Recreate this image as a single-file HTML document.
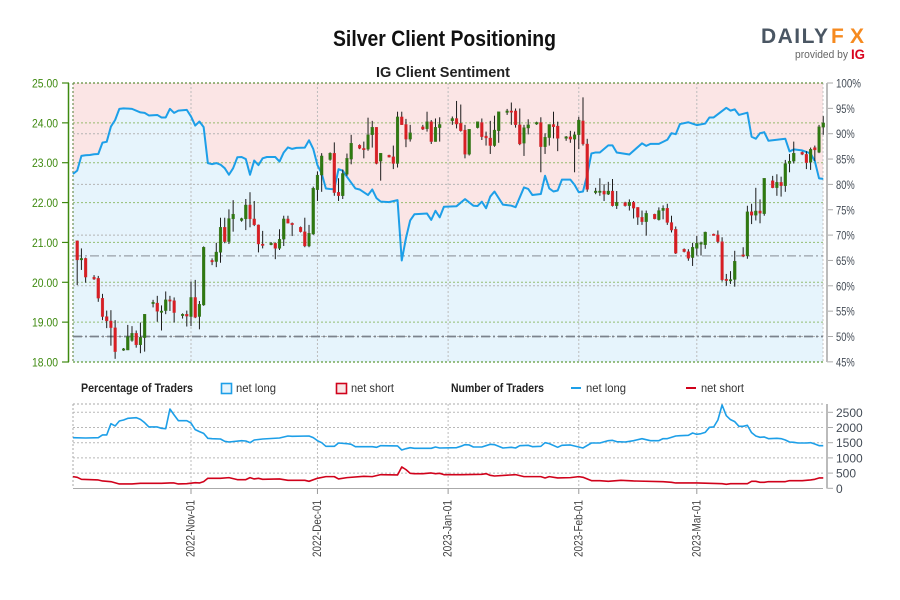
<!DOCTYPE html>
<html lang="en">
<head>
<meta charset="utf-8">
<title>Silver Client Positioning</title>
<style>
html,body{margin:0;padding:0;background:#fff;width:900px;height:600px;overflow:hidden}
svg{display:block;font-family:"Liberation Sans",sans-serif}
</style>
</head>
<body>
<svg id="chart" xmlns="http://www.w3.org/2000/svg" width="900" height="600" viewBox="0 0 900 600">
  <rect width="900" height="600" fill="#fff"/>
  <text x="333" y="46" font-size="22" font-weight="bold" fill="#111" textLength="223" lengthAdjust="spacingAndGlyphs">Silver Client Positioning</text>
  <text x="376" y="77" font-size="15" font-weight="bold" fill="#222" textLength="134" lengthAdjust="spacingAndGlyphs">IG Client Sentiment</text>

  <g>
    <text x="761" y="43" font-size="21" font-weight="bold" fill="#4a5663" textLength="67" lengthAdjust="spacing">DAILY</text>
    <text x="831" y="43" font-size="21" font-weight="bold" fill="#f68a1f" textLength="33" lengthAdjust="spacing">FX</text>
    <text x="795" y="58" font-size="11" fill="#666" textLength="53" lengthAdjust="spacingAndGlyphs">provided by</text>
    <text x="851" y="59" font-size="14" font-weight="bold" fill="#d9041f" textLength="14" lengthAdjust="spacingAndGlyphs">IG</text>
  </g>

  <g id="mainPanel"></g>
  <g id="lowerPanel"></g>

  <g font-size="12" fill="#333">
    <text x="81" y="392" font-weight="bold" fill="#222" textLength="112" lengthAdjust="spacingAndGlyphs">Percentage of Traders</text>
    <rect x="221.5" y="383.5" width="10" height="10" fill="#e6f4fc" stroke="#1d9fe8" stroke-width="1.6"/>
    <text x="236" y="392" textLength="40" lengthAdjust="spacingAndGlyphs">net long</text>
    <rect x="336.5" y="383.5" width="10" height="10" fill="#f8e6e6" stroke="#d0021b" stroke-width="1.6"/>
    <text x="351" y="392" textLength="43" lengthAdjust="spacingAndGlyphs">net short</text>
    <text x="451" y="392" font-weight="bold" fill="#222" textLength="93" lengthAdjust="spacingAndGlyphs">Number of Traders</text>
    <line x1="571" x2="581" y1="388" y2="388" stroke="#1d9fe8" stroke-width="2"/>
    <text x="586" y="392" textLength="40" lengthAdjust="spacingAndGlyphs">net long</text>
    <line x1="686" x2="696" y1="388" y2="388" stroke="#d0021b" stroke-width="2"/>
    <text x="701" y="392" textLength="43" lengthAdjust="spacingAndGlyphs">net short</text>
  </g>
</svg>
<script>
/* Day numbers count from 2022-Nov-01 = 0 */
var dateLabels = ['2022-Nov-01','2022-Dec-01','2023-Jan-01','2023-Feb-01','2023-Mar-01'];
var dateDays = [0,30,61,92,120];
var priceTicks = [18,19,20,21,22,23,24,25];
var percentTicks = [45,50,55,60,65,70,75,80,85,90,95,100];
var percentGrid = [50,60,70,80,90];
var countTicks = [0,500,1000,1500,2000,2500];
var supportPercent = 50;
var midPercent = 65.9;

var candleDays = [-27,-26,-25,
 -23,-22,-21,-20,-19,-18,
 -16,-15,-14,-13,-12,-11,
 -9,-8,-7,-6,-5,-4,
 -2,-1,0,1,2,3,
 5,6,7,8,9,10,
 12,13,14,15,16,17,
 19,20,21,22,23,24,
 26,27,28,29,30,31,
 33,34,35,36,37,38,
 40,41,42,43,44,45,
 47,48,49,50,51,52,
 55,56,57,58,59,
 62,63,64,65,66,
 68,69,70,71,72,73,
 75,76,77,78,79,80,
 82,83,84,85,86,87,
 89,90,91,92,93,94,
 96,97,98,99,100,101,
 103,104,105,106,107,108,
 110,111,112,113,114,115,
 117,118,119,120,121,122,
 124,125,126,127,128,129,
 131,132,133,134,135,136,
 138,139,140,141,142,143,
 145,146,147,148,149,150];
var opens = [21.04,20.56,20.6,
 20.13,20.1,19.6,19.14,19.03,18.86,
 18.3,18.3,18.54,18.72,18.43,18.61,
 19.47,19.48,19.27,19.29,19.56,19.54,
 19.19,19.2,19.14,19.62,19.14,19.43,
 20.55,20.52,20.75,21.38,21.02,21.59,
 21.55,21.59,21.94,21.59,21.44,20.96,
 20.96,20.98,20.85,21.08,21.59,21.48,
 21.38,21.27,20.91,21.21,22.32,22.69,
 23.08,23.24,22.26,22.17,22.71,23.09,
 23.44,23.36,23.34,23.7,23.89,23.04,
 23.19,23.15,22.98,24.15,23.96,23.59,
 23.9,23.85,24.03,23.53,23.88,
 24.05,24.11,23.99,23.82,23.21,
 23.88,24.01,23.67,23.62,23.43,23.8,
 24.26,24.3,24.3,23.95,23.49,23.87,
 23.97,24.01,23.4,23.63,23.96,23.92,
 23.61,23.65,23.59,23.7,24.05,23.47,
 22.25,22.26,22.29,22.21,22.29,21.92,
 22,21.92,22.01,21.88,21.63,21.52,
 21.71,21.57,21.8,21.86,21.5,21.33,
 20.83,20.77,20.62,20.85,20.96,20.94,
 21.21,21.19,21.02,20.08,20.04,20.07,
 20.69,20.66,21.77,21.68,21.79,21.72,
 22.55,22.37,22.51,22.42,22.98,23.04,
 23.26,23.21,23.01,23.38,23.26,23.89];
var highs = [21.05,20.85,20.62,
 20.18,20.16,19.71,19.29,19.3,19.05,
 18.35,18.93,18.9,18.79,18.99,19.2,
 19.56,19.66,19.42,19.77,19.66,19.62,
 19.22,19.29,20.02,20.06,19.53,20.9,
 20.6,20.99,21.62,21.62,21.83,22.06,
 21.62,22.09,22.26,22.04,21.45,21.29,
 21.01,21.0,21.33,21.67,21.67,21.5,
 21.4,21.62,21.44,22.4,22.78,23.24,
 23.26,23.51,22.61,22.83,23.23,23.7,
 23.46,23.53,24.13,24.05,23.89,23.24,
 23.2,23.43,24.28,24.28,24.1,23.95,
 23.95,24.28,24.07,24.11,24.14,
 24.16,24.55,24.46,23.95,23.84,
 24.03,24.11,23.78,24.05,24.18,24.28,
 24.35,24.51,24.36,24.36,23.95,24.09,
 24.03,24.14,23.74,23.96,24.28,24.03,
 23.67,23.8,23.78,24.15,24.64,23.6,
 22.37,22.61,22.46,22.52,22.59,22.29,
 22.02,22.08,22.04,21.88,21.8,21.8,
 21.72,21.88,21.93,21.97,21.67,21.4,
 20.85,20.83,20.99,21.16,21.02,21.27,
 21.22,21.3,21.13,20.21,20.28,20.79,
 20.88,21.92,21.97,22.37,22.08,22.61,
 22.67,22.71,22.65,23.07,23.22,23.53,
 23.28,23.29,23.38,23.43,23.95,24.17];
var lows = [19.93,20.31,19.99,
 20.06,19.51,19.05,18.85,18.41,18.08,
 18.28,18.3,18.51,18.36,18.22,18.26,
 19.37,19.01,18.79,19.2,19.28,18.99,
 19.09,18.89,18.9,19.1,18.82,19.41,
 20.43,20.38,20.49,20.98,20.96,21.27,
 21.52,21.31,21.38,21.41,20.75,20.85,
 20.93,20.58,20.81,20.91,21.48,21.16,
 21.25,20.88,20.88,21.19,22.04,22.27,
 23.05,22.17,22.04,22.09,22.67,22.96,
 23.34,23.11,23.3,23.38,22.96,22.55,
 23.13,22.84,22.88,23.95,23.39,23.53,
 23.82,23.78,23.47,23.53,23.53,
 23.95,23.86,23.78,23.11,23.18,
 23.86,23.57,23.43,23.22,23.4,23.5,
 24.2,23.95,23.88,23.44,23.17,23.71,
 23.95,22.76,23.22,23.43,23.61,23.29,
 23.55,23.5,22.76,23.34,23.43,22.27,
 22.21,22.17,22.04,22.19,21.9,21.84,
 21.9,21.8,21.6,21.44,21.44,21.17,
 21.58,21.55,21.58,21.44,21.25,20.71,
 20.75,20.54,20.41,20.67,20.67,20.84,
 21.17,20.98,20.02,19.91,19.96,19.89,
 20.63,20.59,21.46,21.55,21.48,21.67,
 22.36,22.17,22.15,22.27,22.76,22.98,
 23.19,22.84,22.82,23.04,23.24,23.7];
var closes = [20.56,20.6,20.13,
 20.08,19.6,19.14,19.03,18.86,18.26,
 18.33,18.64,18.72,18.43,18.62,19.2,
 19.5,19.27,19.28,19.56,19.53,19.24,
 19.2,19.15,19.62,19.12,19.45,20.88,
 20.51,20.76,21.38,21.02,21.6,21.71,
 21.6,21.94,21.59,21.44,20.96,20.95,
 20.98,20.85,21.08,21.59,21.48,21.45,
 21.27,20.91,21.23,22.36,22.69,23.17,
 23.24,22.25,22.17,22.73,23.11,23.49,
 23.36,23.35,23.7,23.89,22.98,23.24,
 23.14,22.98,24.15,23.95,23.59,23.75,
 23.84,24.03,23.53,23.89,23.96,
 24.11,23.97,23.8,23.21,23.84,
 24.03,23.65,23.62,23.43,23.82,24.28,
 24.3,24.28,23.95,23.47,23.88,23.95,
 24.01,23.4,23.64,23.96,23.9,23.61,
 23.65,23.59,23.7,24.07,23.47,22.33,
 22.29,22.29,22.21,22.29,21.92,22.01,
 21.92,22.01,21.86,21.63,21.52,21.73,
 21.59,21.8,21.86,21.5,21.31,20.73,
 20.77,20.6,20.88,20.98,20.99,21.26,
 21.18,21.02,20.06,20.04,20.07,20.53,
 20.66,21.77,21.68,21.79,21.73,22.61,
 22.37,22.51,22.42,22.98,23.04,23.24,
 23.21,23.0,23.34,23.32,23.9,24.0];

var sentimentDays = [-28,-27,-26,-25,-24,-23,-22,-21,-20,-19,-18,-17,-16,-14,-12,-11,-10,-8,-7,-6,-5,-4,-3,-1,0,1,2,3,4,5,6,7,8,9,10,11,12,13,14,15,16,17,18,20,21,22,23,24,25,27,28,29,30,31,32,33,34,35,36,37,39,40,42,43,44,45,47,49,50,51,52,53,56,57,58,59,60,63,65,67,68,69,70,71,72,74,76,77,79,80,81,83,84,85,86,87,88,90,91,92,93,94,95,96,97,99,100,101,104,107,108,109,111,113,114,115,116,118,120,122,123,124,127,128,129,130,132,133,134,135,136,137,141,142,143,145,147,148,149,150];
var sentimentLong = [82.07,82.72,85.62,85.75,85.8,85.94,86,88.24,88.4,91.4,92.7,94.9,95,94.9,94.2,94.1,93.6,93.7,93.2,93.2,94.9,94.1,94.55,94.7,93.4,91.6,92.4,91.3,84.2,84,84.2,83.9,83.2,81.9,83.2,85.35,85.4,85,81.9,84.7,83.8,85.15,85.4,85.4,84.5,86.3,87.3,87,87.2,87.25,88.7,87,83.8,82.2,79.2,79.1,79.05,83,82.7,81.5,79.2,79,77.9,79,77.3,76.6,76.5,76.9,65,69.4,72.9,74.1,74.25,73,74.8,73.5,75.6,75.7,77.1,75.8,75.75,76.6,75.3,77.6,78.6,76,75.8,75.5,79.4,79.1,77.9,78.1,81.7,79.2,78.6,78.8,80.95,80.95,79.9,78.45,78.6,81.9,86.1,86.3,86.3,87.7,87.7,86.3,85.9,88.1,87.6,88,88,88.8,90.1,89.9,91.9,92.25,91.7,92,93.2,93.2,95.1,94.55,94.8,93.7,94.15,89.4,89,90.1,90.3,88.6,89,86.5,86.9,86.7,86.1,84.6,81.2,81.1];

var longDays = [-28,-25,-22,-21,-20,-19,-18,-17,-16,-15,-13,-12,-11,-10,-8,-7,-6,-5,-4,-3,-1,0,1,2,3,4,5,7,8,9,12,13,14,15,17,21,22,23,24,28,29,30,31,32,34,35,37,38,39,43,44,45,49,50,51,52,53,57,58,59,63,64,65,66,67,69,71,72,74,76,77,78,80,81,83,84,85,87,88,90,92,93,95,97,99,100,101,103,105,107,109,111,112,113,115,116,118,119,120,121,122,123,124,125,126,127,128,129,130,131,132,133,134,135,136,137,139,140,141,142,143,144,146,147,148,149,150];
var longCounts = [1666,1655,1666,1754,1754,2126,2050,2214,2247,2302,2324,2269,2159,2017,2017,1973,1962,2608,2411,2225,2225,2148,1929,1863,1808,1644,1633,1622,1545,1523,1567,1556,1501,1589,1622,1655,1688,1720,1710,1720,1666,1567,1501,1381,1381,1490,1469,1447,1370,1370,1348,1403,1392,1260,1304,1337,1315,1315,1359,1326,1337,1381,1436,1425,1359,1359,1447,1436,1326,1348,1326,1403,1414,1370,1381,1501,1469,1348,1414,1425,1359,1326,1490,1490,1567,1578,1534,1523,1567,1633,1567,1567,1633,1633,1720,1731,1742,1819,1775,1797,1841,2006,2017,2247,2740,2389,2258,2192,2039,2039,2071,1830,1720,1677,1688,1633,1644,1633,1589,1523,1512,1490,1490,1501,1458,1403,1403];

var shortDays = [-28,-27,-26,-22,-21,-19,-17,-14,-12,-7,-5,-4,-3,-1,1,2,3,4,7,9,11,13,14,15,16,17,21,23,27,28,30,32,34,35,37,41,43,45,49,50,51,52,53,55,57,58,59,60,64,69,70,71,72,77,79,83,84,85,87,90,92,93,95,97,99,102,105,112,114,115,120,126,127,128,132,133,134,135,136,137,141,142,145,147,148,149,150];
var shortCounts = [384,362,296,274,241,219,142,142,164,164,175,175,142,153,186,175,219,329,329,351,285,285,351,307,329,296,307,263,263,230,329,384,384,307,351,395,384,449,438,701,614,493,482,482,504,482,493,449,449,460,482,427,405,449,384,384,340,384,340,351,384,362,252,252,230,263,241,219,197,175,175,153,131,153,153,230,230,197,197,219,219,252,252,274,296,340,340];

function dayX(d){ return 191 + 4.215 * d; }
function priceY(p){ return 83 + (25 - p) * 39.857; }
function percentY(v){ return 83 + (100 - v) * 5.07; }
function countY(n){ return 488.3 - n * 0.0304; }

var NS = 'http://www.w3.org/2000/svg';
function make(parent, tag, attrs, text){
  var el = document.createElementNS(NS, tag);
  for (var k in attrs) el.setAttribute(k, attrs[k]);
  if (text !== undefined) el.textContent = text;
  parent.appendChild(el);
  return el;
}
function linePath(days, vals, yFn){
  var s = '';
  for (var i = 0; i < days.length; i++) s += (i ? 'L' : 'M') + dayX(days[i]).toFixed(2) + ' ' + yFn(vals[i]).toFixed(2);
  return s;
}

var mainGroup = document.getElementById('mainPanel');
var lowerGroup = document.getElementById('lowerPanel');
var el, i;

/* Sentiment background fills */
el = make(mainGroup, 'rect', {x:73, y:83, width:750, height:279, fill:'#fbe5e5'});


el = make(mainGroup, 'path', {d: linePath(sentimentDays, sentimentLong, percentY) + 'L823 ' + percentY(sentimentLong[sentimentLong.length-1]).toFixed(2) + 'L823 362L73 362Z', fill:'#e6f4fc'});



/* Right-axis percent grid */
for (i = 0; i < percentGrid.length; i++) {
  el = make(mainGroup, 'line', {x1:73, x2:823, y1:percentY(percentGrid[i]), y2:percentY(percentGrid[i]), stroke:'#b4b4b4', 'stroke-width':1, 'stroke-dasharray':'2 2'});
  
  
}
/* Vertical date grid, both panels */
for (i = 0; i < dateDays.length; i++) {
  el = make(mainGroup, 'line', {x1:dayX(dateDays[i]), x2:dayX(dateDays[i]), y1:83, y2:362, stroke:'#bcbcbc', 'stroke-width':1, 'stroke-dasharray':'2 2'});
  
  
  el = make(lowerGroup, 'line', {x1:dayX(dateDays[i]), x2:dayX(dateDays[i]), y1:404, y2:488, stroke:'#bcbcbc', 'stroke-width':1, 'stroke-dasharray':'2 2'});
  
  
}
/* Price grid + left axis */
for (i = 0; i < priceTicks.length; i++) {
  var py = priceY(priceTicks[i]);
  el = make(mainGroup, 'line', {x1:73, x2:823, y1:py, y2:py, stroke:'#7fb050', 'stroke-width':1, 'stroke-dasharray':'2 2', opacity:0.8});
  
  
  el = make(mainGroup, 'line', {x1:62, x2:69, y1:py, y2:py, stroke:'#3f8a10', 'stroke-width':1.2});
  
  
  el = make(mainGroup, 'text', {x:32, y:py + 4.5, 'font-size':12, fill:'#3f8a10', textLength:26, lengthAdjust:'spacingAndGlyphs'}, priceTicks[i].toFixed(2));
  
  
}
el = make(mainGroup, 'line', {x1:68.5, x2:68.5, y1:83, y2:362, stroke:'#3f8a10', 'stroke-width':1.5});


el = make(mainGroup, 'line', {x1:73, x2:73, y1:83, y2:362, stroke:'#6f8f55', 'stroke-width':1.2, 'stroke-dasharray':'2 2'});


el = make(mainGroup, 'line', {x1:823, x2:823, y1:83, y2:362, stroke:'#c4c4c4', 'stroke-width':1, 'stroke-dasharray':'2 2'});



/* Reference dash-dot levels */
el = make(mainGroup, 'line', {x1:73, x2:823, y1:percentY(midPercent), y2:percentY(midPercent), stroke:'#99a0a8', 'stroke-width':1.2, 'stroke-dasharray':'9 3 2 3'});


el = make(mainGroup, 'line', {x1:73, x2:823, y1:percentY(supportPercent), y2:percentY(supportPercent), stroke:'#7b828c', 'stroke-width':1.8, 'stroke-dasharray':'9 3 2 3'});



/* Right percent axis */
for (i = 0; i < percentTicks.length; i++) {
  var vy = percentY(percentTicks[i]);
  var percentText = percentTicks[i] + '%';
  el = make(mainGroup, 'line', {x1:827, x2:833, y1:vy, y2:vy, stroke:'#aaa', 'stroke-width':1});
  
  
  el = make(mainGroup, 'text', {x:836, y:vy + 4.5, 'font-size':12, fill:'#444c56', textLength:6.25 * percentText.length, lengthAdjust:'spacingAndGlyphs'}, percentText);
  
  
}
el = make(mainGroup, 'line', {x1:827, x2:827, y1:83, y2:362, stroke:'#bbb', 'stroke-width':2});



/* Sentiment line */
el = make(mainGroup, 'path', {d: linePath(sentimentDays, sentimentLong, percentY), fill:'none', stroke:'#1d9fe8', 'stroke-width':2, 'stroke-linejoin':'round'});



/* Candles */
for (i = 0; i < candleDays.length; i++) {
  var candleX = dayX(candleDays[i]);
  var isUp = closes[i] >= opens[i];
  var bodyTop = priceY(Math.max(opens[i], closes[i]));
  var bodyBottom = priceY(Math.min(opens[i], closes[i]));
  el = make(mainGroup, 'line', {x1:candleX, x2:candleX, y1:priceY(highs[i]), y2:priceY(lows[i]), stroke:'#1c1c1c', 'stroke-width':1});
  
  
  el = make(mainGroup, 'rect', {x:candleX - 1.4, y:bodyTop, width:2.8, height:Math.max(bodyBottom - bodyTop, 1.5), fill: isUp ? '#2e7a10' : '#d81e24', stroke: isUp ? '#3d6b22' : '#c9383c', 'stroke-width':0.3});
  
  
}

/* Top/bottom dotted borders above the marks */
el = make(mainGroup, 'line', {x1:73, x2:823, y1:83, y2:83, stroke:'#5f8f3a', 'stroke-width':1.2, 'stroke-dasharray':'2 2'});


el = make(mainGroup, 'line', {x1:73, x2:823, y1:362, y2:362, stroke:'#5f9a3a', 'stroke-width':1.2, 'stroke-dasharray':'2 2'});



/* Lower panel */
el = make(lowerGroup, 'line', {x1:73, x2:823, y1:404, y2:404, stroke:'#aaa', 'stroke-width':1, 'stroke-dasharray':'2 2'});


el = make(lowerGroup, 'line', {x1:73, x2:73, y1:404, y2:488, stroke:'#aaa', 'stroke-width':1, 'stroke-dasharray':'2 2'});


el = make(lowerGroup, 'line', {x1:73, x2:823, y1:488.5, y2:488.5, stroke:'#aaa', 'stroke-width':1});


for (i = 0; i < countTicks.length; i++) {
  var ny = countY(countTicks[i]);
  if (countTicks[i] > 0) {
    el = make(lowerGroup, 'line', {x1:73, x2:823, y1:ny, y2:ny, stroke:'#b8b8b8', 'stroke-width':1, 'stroke-dasharray':'2 2'});
    
    
  }
  el = make(lowerGroup, 'line', {x1:827, x2:833, y1:ny, y2:ny, stroke:'#aaa', 'stroke-width':1});
  
  
  el = make(lowerGroup, 'text', {x:836, y:ny + 4.5, 'font-size':12, fill:'#444c56'}, String(countTicks[i]));
  
  
}
el = make(lowerGroup, 'line', {x1:827, x2:827, y1:404, y2:488.5, stroke:'#bbb', 'stroke-width':2});


el = make(lowerGroup, 'path', {d: linePath(longDays, longCounts, countY), fill:'none', stroke:'#1d9fe8', 'stroke-width':1.6, 'stroke-linejoin':'round'});


el = make(lowerGroup, 'path', {d: linePath(shortDays, shortCounts, countY), fill:'none', stroke:'#d0021b', 'stroke-width':1.6, 'stroke-linejoin':'round'});



/* Date ticks and rotated labels */
for (i = 0; i < dateLabels.length; i++) {
  var tickX = dayX(dateDays[i]);
  el = make(lowerGroup, 'line', {x1:tickX, x2:tickX, y1:488.5, y2:494, stroke:'#999', 'stroke-width':1});
  
  
  el = make(lowerGroup, 'text', {x:0, y:0, transform:'translate(' + (tickX + 3.5) + ' 557) rotate(-90)', 'font-size':12, fill:'#444', textLength:57, lengthAdjust:'spacingAndGlyphs'}, dateLabels[i]);
  
  
}
</script>
</body>
</html>
